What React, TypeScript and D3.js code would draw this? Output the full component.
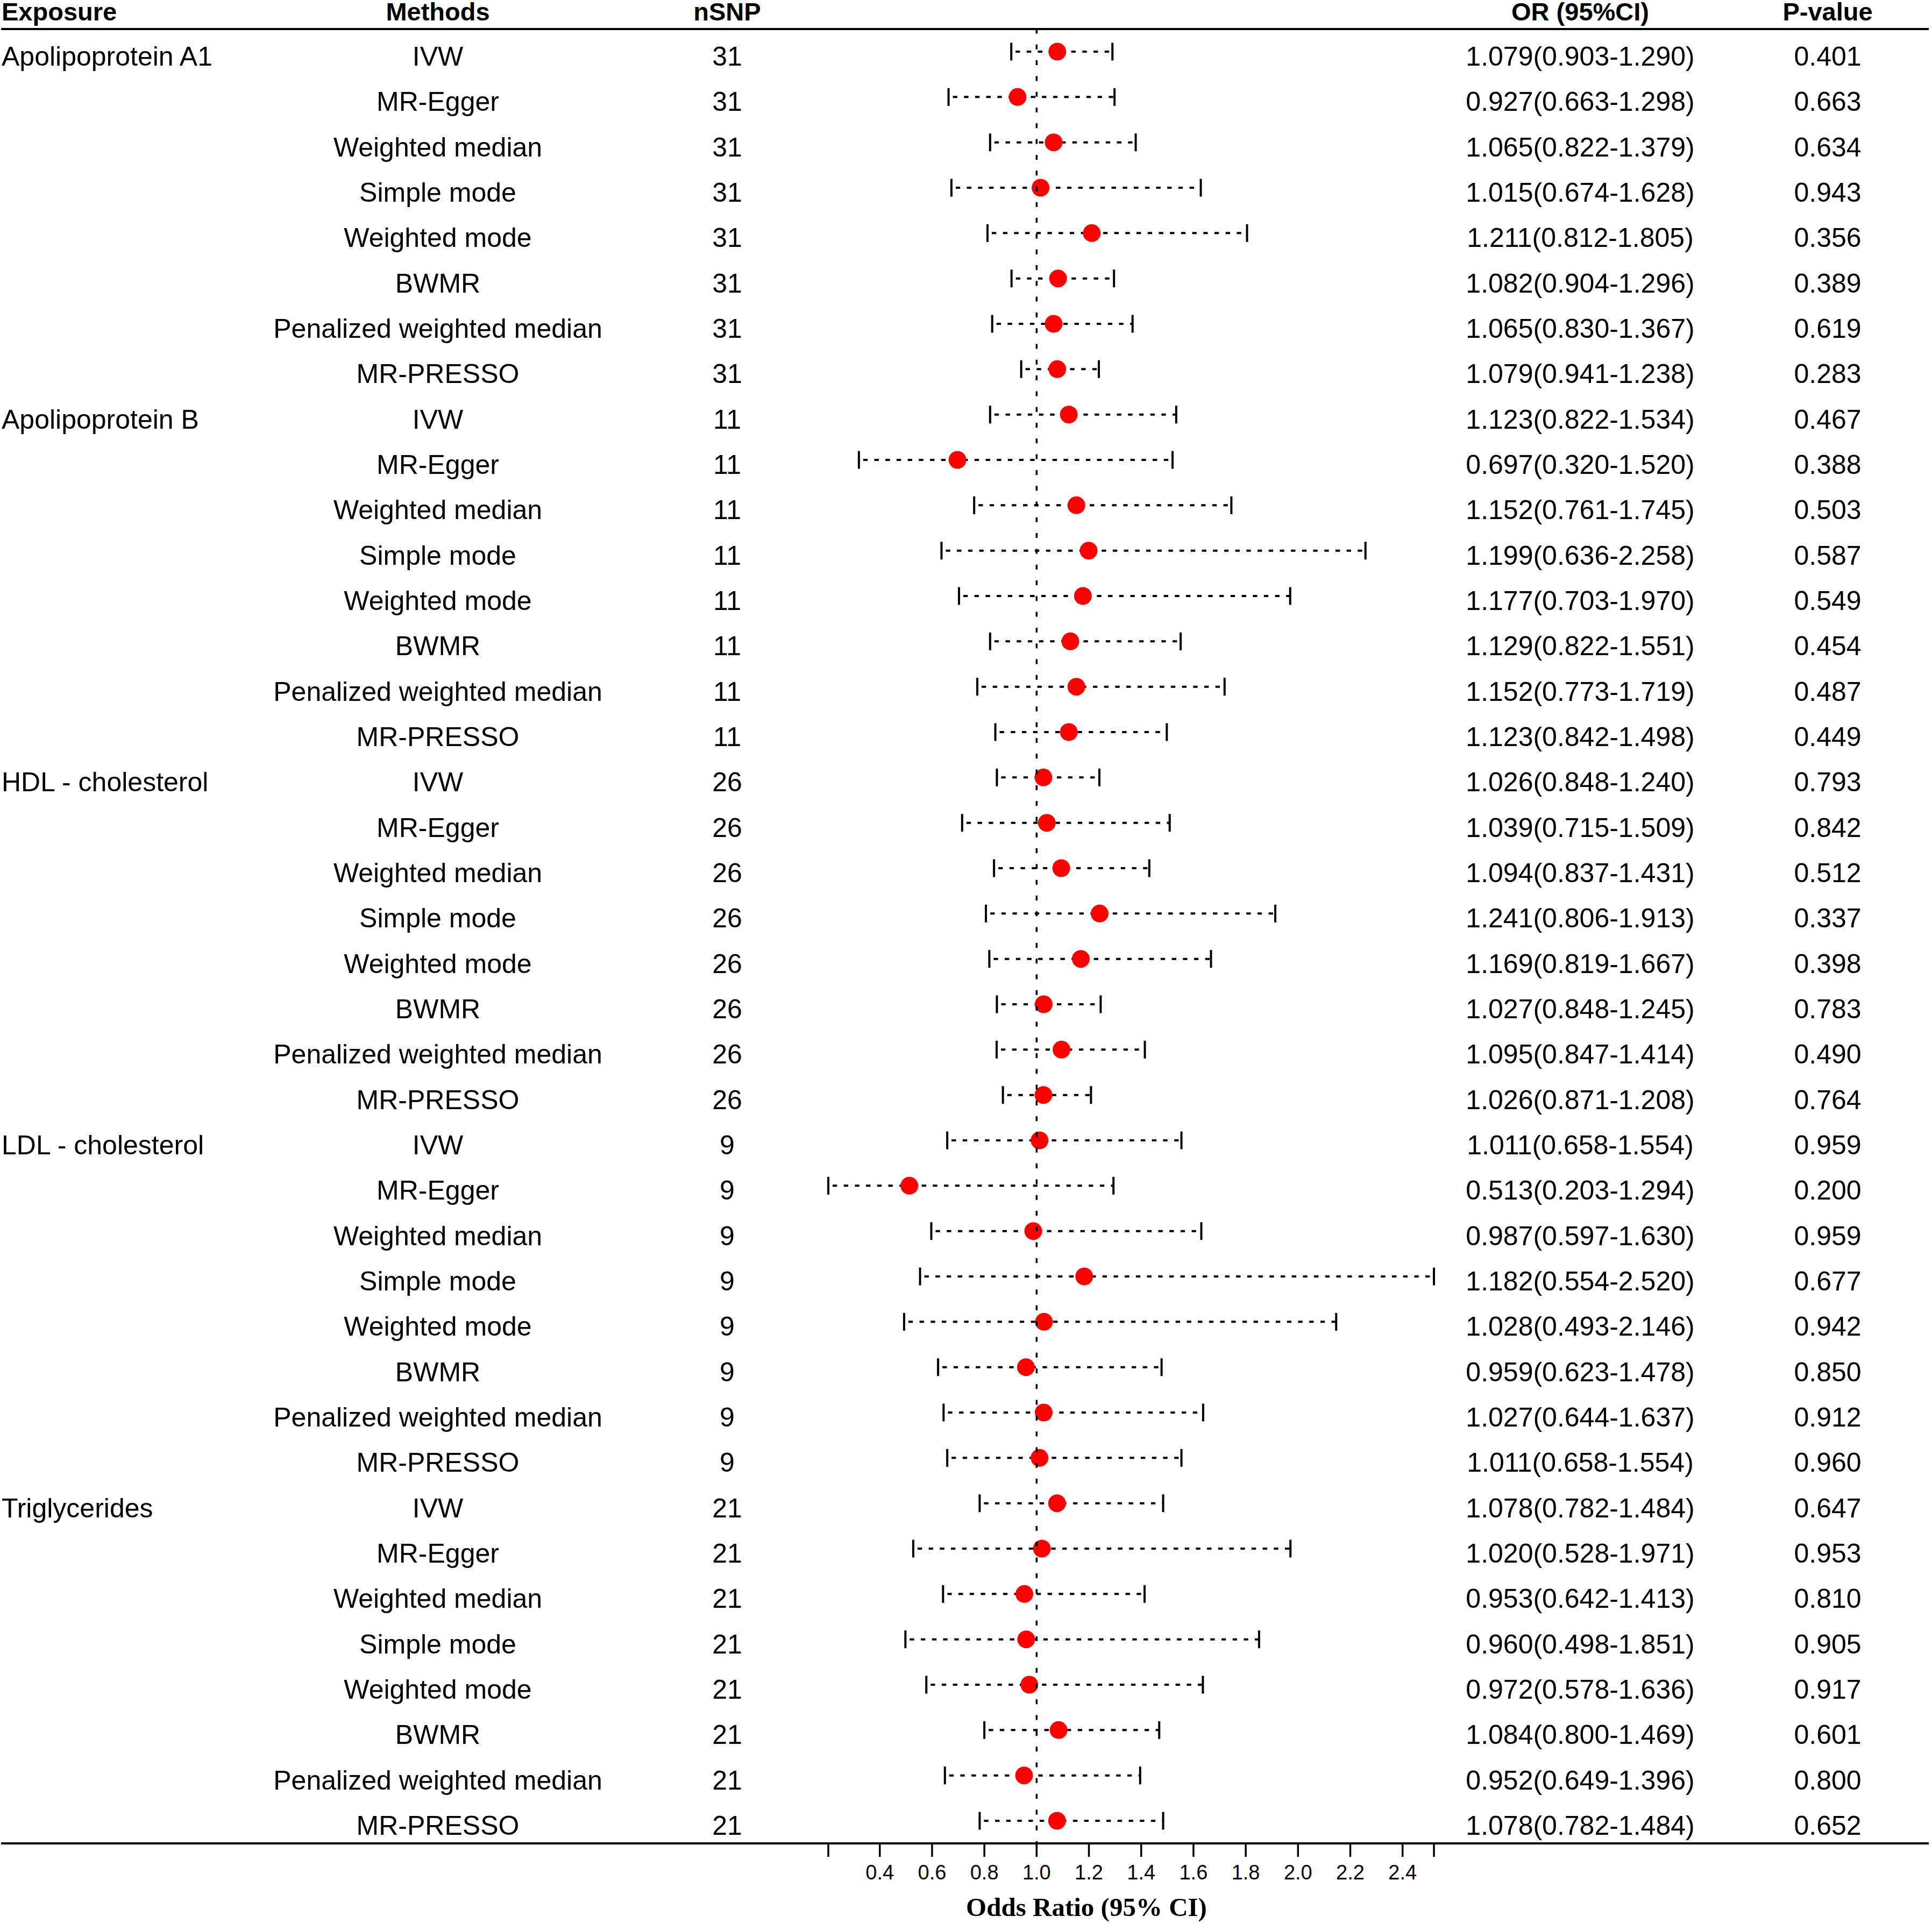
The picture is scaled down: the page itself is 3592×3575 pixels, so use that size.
import React from "react";
import * as d3 from "d3";

const exposures = ["Apolipoprotein A1", "Apolipoprotein B", "HDL - cholesterol", "LDL - cholesterol", "Triglycerides"];
const methods = ["IVW", "MR-Egger", "Weighted median", "Simple mode", "Weighted mode", "BWMR", "Penalized weighted median", "MR-PRESSO"];
const nSNP = [31, 11, 26, 9, 21];

const orValues = [
  1.079, 0.927, 1.065, 1.015, 1.211, 1.082, 1.065, 1.079,
  1.123, 0.697, 1.152, 1.199, 1.177, 1.129, 1.152, 1.123,
  1.026, 1.039, 1.094, 1.241, 1.169, 1.027, 1.095, 1.026,
  1.011, 0.513, 0.987, 1.182, 1.028, 0.959, 1.027, 1.011,
  1.078, 1.020, 0.953, 0.960, 0.972, 1.084, 0.952, 1.078,
];
const lowerCI = [
  0.903, 0.663, 0.822, 0.674, 0.812, 0.904, 0.830, 0.941,
  0.822, 0.320, 0.761, 0.636, 0.703, 0.822, 0.773, 0.842,
  0.848, 0.715, 0.837, 0.806, 0.819, 0.848, 0.847, 0.871,
  0.658, 0.203, 0.597, 0.554, 0.493, 0.623, 0.644, 0.658,
  0.782, 0.528, 0.642, 0.498, 0.578, 0.800, 0.649, 0.782,
];
const upperCI = [
  1.290, 1.298, 1.379, 1.628, 1.805, 1.296, 1.367, 1.238,
  1.534, 1.520, 1.745, 2.258, 1.970, 1.551, 1.719, 1.498,
  1.240, 1.509, 1.431, 1.913, 1.667, 1.245, 1.414, 1.208,
  1.554, 1.294, 1.630, 2.520, 2.146, 1.478, 1.637, 1.554,
  1.484, 1.971, 1.413, 1.851, 1.636, 1.469, 1.396, 1.484,
];
const pValues = [
  "0.401", "0.663", "0.634", "0.943", "0.356", "0.389", "0.619", "0.283",
  "0.467", "0.388", "0.503", "0.587", "0.549", "0.454", "0.487", "0.449",
  "0.793", "0.842", "0.512", "0.337", "0.398", "0.783", "0.490", "0.764",
  "0.959", "0.200", "0.959", "0.677", "0.942", "0.850", "0.912", "0.960",
  "0.647", "0.953", "0.810", "0.905", "0.917", "0.601", "0.800", "0.652",
];
const tickLabels = [0.4, 0.6, 0.8, 1.0, 1.2, 1.4, 1.6, 1.8, 2.0, 2.2, 2.4];
const headers = ["Exposure", "Methods", "nSNP", "OR (95%CI)", "P-value"];

const W = 3592;
const H = 3575;
const SANS = "'Liberation Sans', Arial, Helvetica, sans-serif";
const SERIF = "'Liberation Serif', 'Times New Roman', serif";

export default function App() {
  const rows = d3.range(orValues.length).map((i) => ({
    i,
    exposure: i % methods.length === 0 ? exposures[Math.floor(i / methods.length)] : "",
    method: methods[i % methods.length],
    n: nSNP[Math.floor(i / methods.length)],
    or: orValues[i],
    lo: lowerCI[i],
    hi: upperCI[i],
    p: pValues[i],
  }));

  const x = d3
    .scaleLinear()
    .domain([d3.min(lowerCI) as number, d3.max(upperCI) as number])
    .range([1540, 2666]);
  const y = d3.scalePoint<number>().domain(rows.map((r) => r.i)).range([96, 3385]);

  const headerLineY = 54;
  const axisY = 3427;
  const colX = { exposure: 3, method: 814, n: 1352, or: 2938, p: 3398 };
  const fs = 50;
  const baseOff = 26;
  const capHalf = 16.5;
  const fmt = d3.format(".3f");
  const allTicks = [x.domain()[0], ...tickLabels, x.domain()[1]];
  const headY = 37.5;

  return (
    <svg
      width={W}
      height={H}
      viewBox={`0 0 ${W} ${H}`}
      style={{ position: "absolute", left: 0, top: 0, background: "#fff" }}
    >
      <rect x={0} y={0} width={W} height={H} fill="#fff" />
      {/* headers */}
      <g fontFamily={SANS} fontWeight="bold" fontSize={47} fill="#000">
        <text x={colX.exposure} y={headY} textAnchor="start">{headers[0]}</text>
        <text x={colX.method} y={headY} textAnchor="middle">{headers[1]}</text>
        <text x={colX.n} y={headY} textAnchor="middle">{headers[2]}</text>
        <text x={colX.or} y={headY} textAnchor="middle">{headers[3]}</text>
        <text x={colX.p} y={headY} textAnchor="middle">{headers[4]}</text>
      </g>
      <line x1={2} x2={3586} y1={headerLineY} y2={headerLineY} stroke="#000" strokeWidth={4} />

      {/* table text */}
      <g fontFamily={SANS} fontSize={fs} fill="#000">
        {rows.map((r) => (
          <g key={r.i}>
            {r.exposure && (
              <text x={colX.exposure} y={(y(r.i) as number) + baseOff} textAnchor="start">{r.exposure}</text>
            )}
            <text x={colX.method} y={(y(r.i) as number) + baseOff} textAnchor="middle">{r.method}</text>
            <text x={colX.n} y={(y(r.i) as number) + baseOff} textAnchor="middle">{r.n}</text>
            <text x={colX.or} y={(y(r.i) as number) + baseOff} textAnchor="middle">
              {`${fmt(r.or)}(${fmt(r.lo)}-${fmt(r.hi)})`}
            </text>
            <text x={colX.p} y={(y(r.i) as number) + baseOff} textAnchor="middle">{r.p}</text>
          </g>
        ))}
      </g>

      {/* CIs */}
      <g stroke="#000">
        {rows.map((r) => {
          const cy = y(r.i) as number;
          return (
            <g key={r.i}>
              <line x1={x(r.lo)} x2={x(r.hi)} y1={cy} y2={cy} strokeWidth={4} strokeDasharray="8.3,12.4" strokeDashoffset={-8} />
              <line x1={x(r.lo)} x2={x(r.lo)} y1={cy - capHalf} y2={cy + capHalf} strokeWidth={4} />
              <line x1={x(r.hi)} x2={x(r.hi)} y1={cy - capHalf} y2={cy + capHalf} strokeWidth={4} />
            </g>
          );
        })}
      </g>
      <g fill="#ff0000">
        {rows.map((r) => (
          <circle key={r.i} cx={x(r.or)} cy={y(r.i) as number} r={16.5} />
        ))}
      </g>

      {/* reference line at OR = 1 */}
      <line x1={x(1)} x2={x(1)} y1={53.5} y2={axisY - 2} stroke="#000" strokeWidth={3.5} strokeDasharray="9,20.3" />

      {/* axis */}
      <line x1={2} x2={3586} y1={axisY} y2={axisY} stroke="#000" strokeWidth={4} />
      <g stroke="#000" strokeWidth={3.5}>
        {allTicks.map((t, k) => (
          <line key={k} x1={x(t)} x2={x(t)} y1={axisY} y2={axisY + 25} />
        ))}
      </g>
      <g fontFamily={SANS} fontSize={38} fill="#000" textAnchor="middle">
        {tickLabels.map((t) => (
          <text key={t} x={x(t)} y={3494}>{t.toFixed(1)}</text>
        ))}
      </g>
      <text x={2020} y={3562} textAnchor="middle" fontFamily={SERIF} fontWeight="bold" fontSize={49} fill="#000">
        Odds Ratio (95% CI)
      </text>
    </svg>
  );
}
